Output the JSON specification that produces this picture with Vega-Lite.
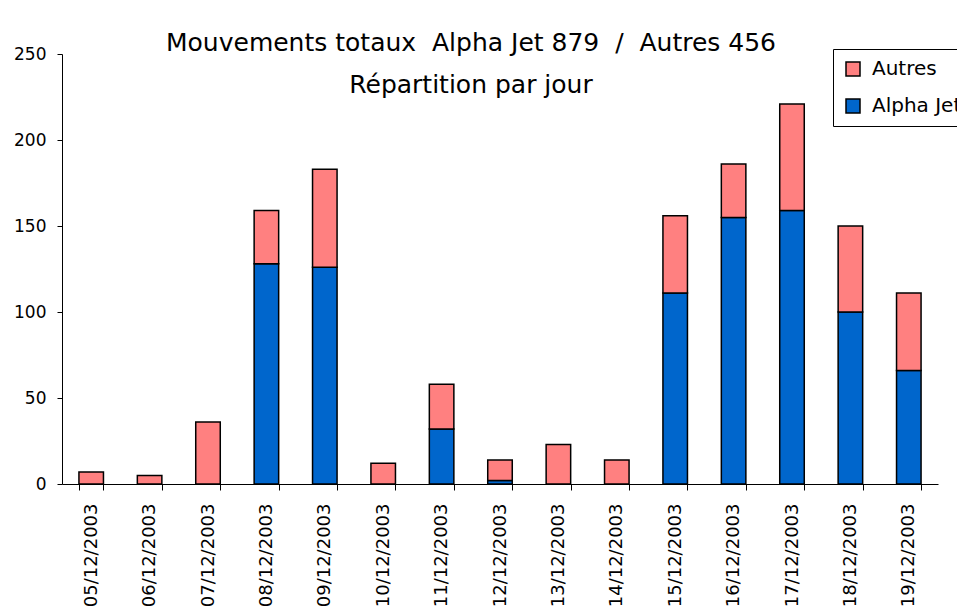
{
  "$schema": "https://vega.github.io/schema/vega-lite/v6.json",
  "width": 876,
  "height": 430,
  "autosize": {"type": "none"},
  "padding": {"left": 62, "top": 54, "right": 19, "bottom": 126},
  "background": "white",
  "title": {
    "text": ["Mouvements totaux\u00a0\u00a0Alpha Jet 879\u00a0\u00a0/\u00a0\u00a0Autres 456", "Répartition par jour"],
    "font": "DejaVu Sans",
    "fontSize": 25,
    "fontWeight": "normal",
    "color": "black",
    "lineHeight": 42,
    "anchor": "middle",
    "frame": "group",
    "offset": 0,
    "dx": -29,
    "dy": 53
  },
  "data": {
    "values": [
      {"date": "05/12/2003", "serie": "Autres", "value": 7},
      {"date": "06/12/2003", "serie": "Autres", "value": 5},
      {"date": "07/12/2003", "serie": "Autres", "value": 36},
      {"date": "08/12/2003", "serie": "Alpha Jet", "value": 128},
      {"date": "08/12/2003", "serie": "Autres", "value": 31},
      {"date": "09/12/2003", "serie": "Alpha Jet", "value": 126},
      {"date": "09/12/2003", "serie": "Autres", "value": 57},
      {"date": "10/12/2003", "serie": "Autres", "value": 12},
      {"date": "11/12/2003", "serie": "Alpha Jet", "value": 32},
      {"date": "11/12/2003", "serie": "Autres", "value": 26},
      {"date": "12/12/2003", "serie": "Alpha Jet", "value": 2},
      {"date": "12/12/2003", "serie": "Autres", "value": 12},
      {"date": "13/12/2003", "serie": "Autres", "value": 23},
      {"date": "14/12/2003", "serie": "Autres", "value": 14},
      {"date": "15/12/2003", "serie": "Alpha Jet", "value": 111},
      {"date": "15/12/2003", "serie": "Autres", "value": 45},
      {"date": "16/12/2003", "serie": "Alpha Jet", "value": 155},
      {"date": "16/12/2003", "serie": "Autres", "value": 31},
      {"date": "17/12/2003", "serie": "Alpha Jet", "value": 159},
      {"date": "17/12/2003", "serie": "Autres", "value": 62},
      {"date": "18/12/2003", "serie": "Alpha Jet", "value": 100},
      {"date": "18/12/2003", "serie": "Autres", "value": 50},
      {"date": "19/12/2003", "serie": "Alpha Jet", "value": 66},
      {"date": "19/12/2003", "serie": "Autres", "value": 45}
    ]
  },
  "mark": {"type": "bar", "stroke": "black", "strokeWidth": 1.5},
  "encoding": {
    "x": {
      "field": "date",
      "type": "ordinal",
      "sort": null,
      "scale": {"paddingInner": 0.58, "paddingOuter": 0.29},
      "axis": {
        "title": null,
        "labelAngle": -90,
        "labelFont": "DejaVu Sans",
        "labelFontSize": 18,
        "labelColor": "black",
        "labelPadding": 13,
        "tickBand": "extent",
        "tickSize": 6,
        "tickColor": "black",
        "domainColor": "black",
        "labelOverlap": false
      }
    },
    "y": {
      "field": "value",
      "type": "quantitative",
      "stack": "zero",
      "scale": {"domain": [0, 250], "nice": false},
      "axis": {
        "title": null,
        "values": [0, 50, 100, 150, 200, 250],
        "grid": false,
        "labelFont": "DejaVu Sans",
        "labelFontSize": 17,
        "labelColor": "black",
        "labelPadding": 11,
        "tickSize": 5,
        "tickColor": "black",
        "domainColor": "black"
      }
    },
    "color": {
      "field": "serie",
      "type": "nominal",
      "scale": {"domain": ["Autres", "Alpha Jet"], "range": ["#FF8080", "#0066CC"]},
      "legend": {
        "title": null,
        "orient": "none",
        "legendX": 771,
        "legendY": -5,
        "direction": "vertical",
        "strokeColor": "black",
        "fillColor": "white",
        "padding": 10,
        "symbolType": "square",
        "symbolSize": 196,
        "symbolStrokeColor": "black",
        "symbolStrokeWidth": 1.5,
        "symbolOpacity": 1,
        "labelFont": "DejaVu Sans",
        "labelFontSize": 20,
        "labelColor": "black",
        "labelOffset": 9,
        "rowPadding": 17
      }
    },
    "order": {"field": "serie", "sort": "ascending"}
  },
  "config": {"view": {"stroke": null}, "axis": {"domainWidth": 1, "tickWidth": 1}}
}
